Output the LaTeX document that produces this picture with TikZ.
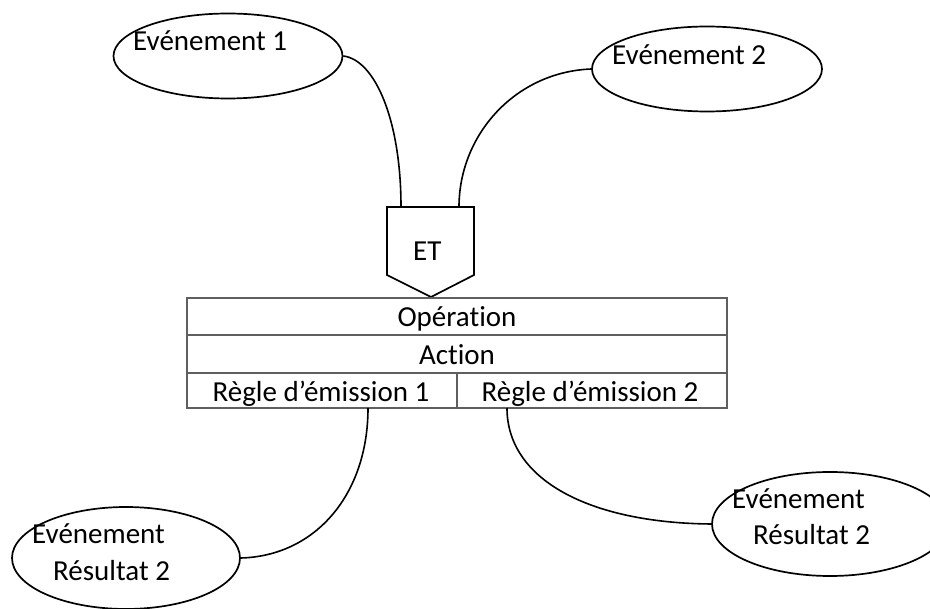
\documentclass[tikz,border=0pt]{standalone}
\usepackage{fontspec}
\setmainfont{Carlito}[Ligatures=NoCommon]
\usetikzlibrary{shapes.geometric}
\definecolor{tbl}{RGB}{95,95,95}
\begin{document}
\begin{tikzpicture}[x=1pt,y=-1pt,
  evt/.style={ellipse,draw=black,line width=1.7pt,minimum width=#1,inner sep=0pt},
  txt/.style={anchor=base west,inner sep=0pt,font=\fontsize{29}{34}\selectfont},
  ctxt/.style={anchor=base,inner sep=0pt,font=\fontsize{29}{34}\selectfont},
  cell/.style={rectangle,draw=tbl,line width=1.6pt,inner sep=0pt},
  conn/.style={draw=black,line width=1.6pt}]
\useasboundingbox (0,0) rectangle (930,609);
% events
\node[evt=229pt,minimum height=85pt] (e1) at (228,56) {};
\node[evt=230pt,minimum height=85pt] (e2) at (707,69) {};
\node[evt=228pt,minimum height=102pt] (e3) at (126,558) {};
\node[evt=236pt,minimum height=104pt] (e4) at (830,524) {};
\node[txt] (t1) at (133,51) {Evénement 1};
\node[txt] (t2) at (612,65) {Evénement 2};
\node[txt] (t3a) at (32,544) {Evénement};
\node[txt] (t3b) at (53,580) {Résultat 2};
\node[txt] (t4a) at (732,509) {Evénement};
\node[txt] (t4b) at (753,545) {Résultat 2};
% ET gate
\coordinate (etl) at (387,207);
\coordinate (etr) at (474,207);
\coordinate (etp) at (431,297);
\draw[line width=1.7pt,line join=miter] (etl) -- (etr) -- (474,275) -- (etp) -- (387,275) -- cycle;
\node[txt] (et) at (413,261) {ET};
\coordinate (c1) at (401,207);
\coordinate (c2) at (459,207);
% table
\node[cell,minimum width=540pt,minimum height=37pt] (op) at (457,316.5) {};
\node[cell,minimum width=540pt,minimum height=38pt] (act) at (457,354) {};
\node[cell,minimum width=270pt,minimum height=35pt] (r1) at (322,390.5) {};
\node[cell,minimum width=270pt,minimum height=35pt] (r2) at (592,390.5) {};
\node[ctxt] (top) at (457,327) {Opération};
\node[ctxt] (tact) at (457,365) {Action};
\node[ctxt] (tr1) at (321,402) {Règle d’émission 1};
\node[ctxt] (tr2) at (590,402) {Règle d’émission 2};
\coordinate (o1) at (368,408);
\coordinate (o2) at (507,408);
% connectors
\draw[conn] (e1.east) .. controls (375,60) and (401,120) .. (c1);
\draw[conn] (e2.west) .. controls (515,72) and (459,135) .. (c2);
\draw[conn] (o1) .. controls (368,495) and (315,556) .. (e3.east);
\draw[conn] (o2) .. controls (507,480) and (590,523) .. (e4.west);
\end{tikzpicture}
\end{document}
